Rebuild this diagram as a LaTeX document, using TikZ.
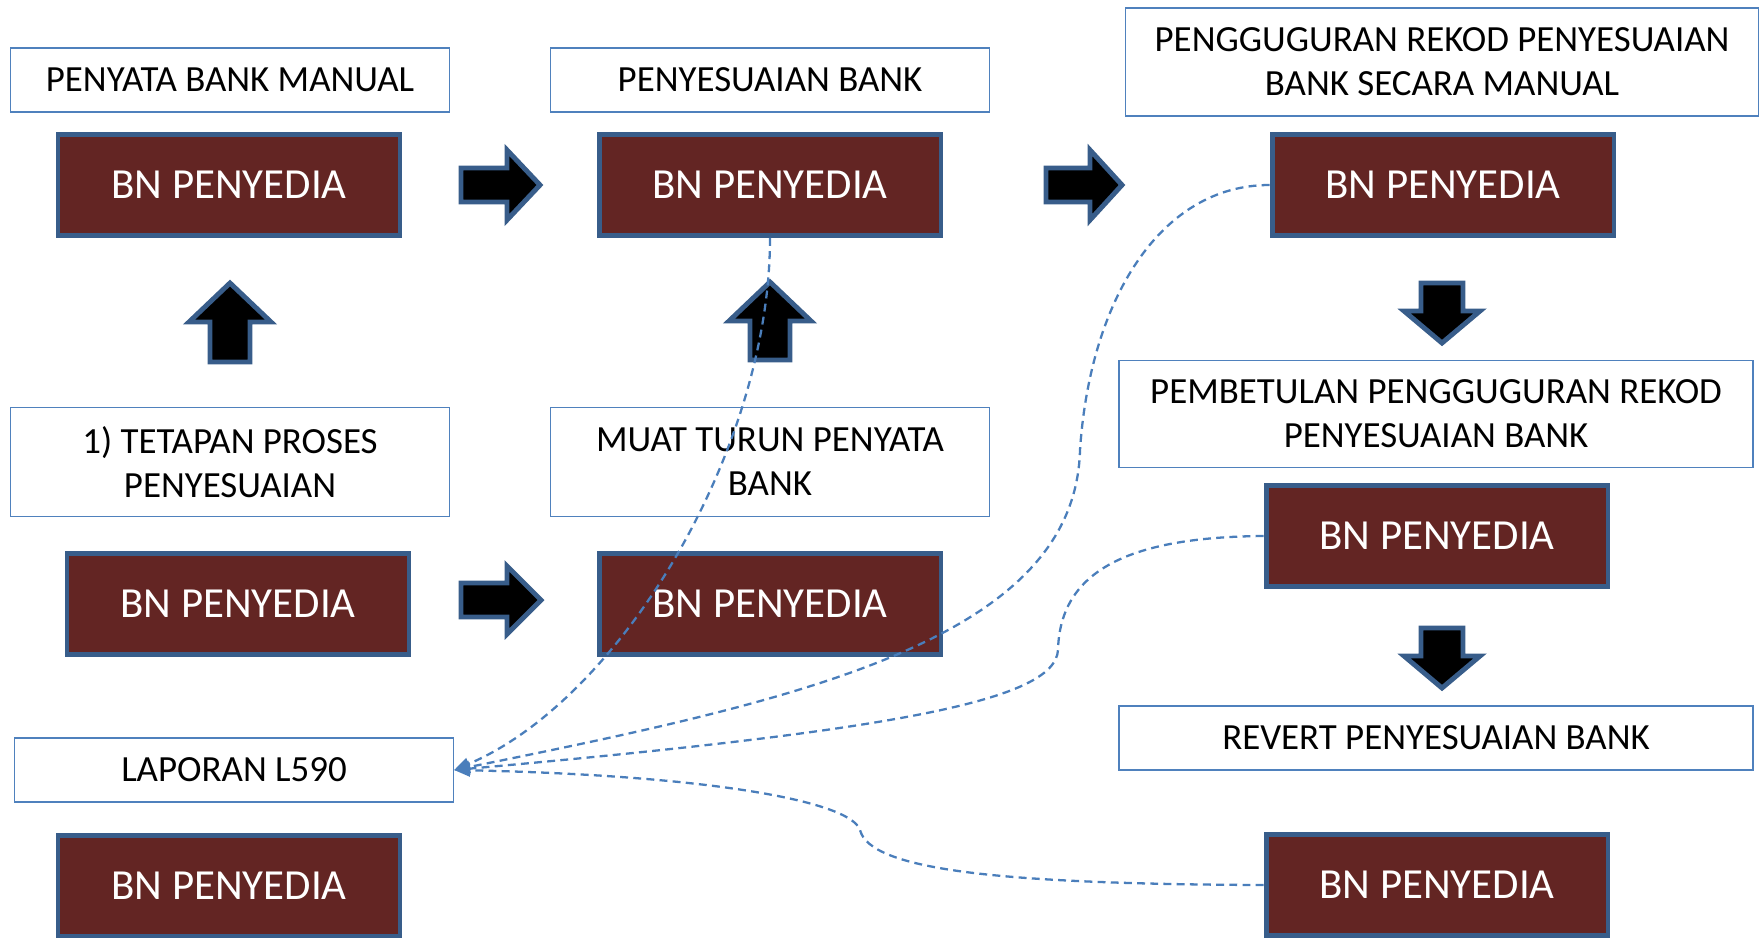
\documentclass[tikz,border=0pt]{standalone}
\usepackage{fontspec}
\setmainfont{Carlito}
\usetikzlibrary{arrows.meta}
\definecolor{mybrown}{RGB}{99,37,35}
\definecolor{mynavy}{RGB}{56,93,138}
\definecolor{myblue}{RGB}{79,129,189}
\definecolor{mydash}{RGB}{74,126,187}
\tikzstyle{bnbox}=[draw=mynavy,fill=mybrown,line width=2.8pt,minimum width=6.84cm,minimum height=2.02cm,text=white,font=\fontsize{24.4}{28}\selectfont]
\tikzstyle{whitebox}=[draw=myblue,fill=white,line width=0.8pt,minimum width=8.78cm,minimum height=1.28cm,align=center,font=\fontsize{21}{25}\selectfont]
\tikzstyle{blockarrow}=[draw=mynavy,fill=black,line width=2.8pt]
\tikzstyle{link}=[draw=mydash,dashed,dash pattern=on 4.5pt off 3pt,line width=1.3pt,-{Triangle[length=9pt,width=7pt]}]

\begin{document}
\begin{tikzpicture}[x=0.02cm,y=-0.02cm]
\useasboundingbox (0,0) rectangle (1763,937);
\clip (0,0) rectangle (1763,937);
% top row
\draw (230, 80) node [whitebox] (w1) {PENYATA BANK MANUAL};
\draw (229, 185) node [bnbox] (b1) {BN PENYEDIA};
\draw (770, 80) node [whitebox] (w2) {PENYESUAIAN BANK};
\draw (770, 185) node [bnbox] (b2) {BN PENYEDIA};
\draw (1442, 62) node [whitebox, minimum width=12.66cm, minimum height=2.16cm] (w3) {PENGGUGURAN REKOD PENYESUAIAN\\BANK SECARA MANUAL};
\draw (1443, 185) node [bnbox] (b3) {BN PENYEDIA};
% middle row
\draw (230, 462) node [whitebox, minimum height=2.18cm] (w4) {1) TETAPAN PROSES\\PENYESUAIAN};
\draw (238, 604) node [bnbox] (b4) {BN PENYEDIA};
\draw (770, 462) node [whitebox, minimum height=2.18cm] (w5) {MUAT TURUN PENYATA\\BANK};
\draw (770, 604) node [bnbox] (b5) {BN PENYEDIA};
\draw (1436, 414) node [whitebox, minimum width=12.68cm, minimum height=2.14cm] (w6) {PEMBETULAN PENGGUGURAN REKOD\\PENYESUAIAN BANK};
\draw (1437, 536) node [bnbox] (b6) {BN PENYEDIA};
\draw (1436, 738) node [whitebox, minimum width=12.68cm, minimum height=1.28cm] (w7) {REVERT PENYESUAIAN BANK};
% bottom row
\draw (234, 770) node [whitebox] (lap) {LAPORAN L590};
\draw (229, 886) node [bnbox] (b7) {BN PENYEDIA};
\draw (1437, 885) node [bnbox] (b8) {BN PENYEDIA};
% block arrows
\draw[blockarrow] (461,168) -- (507,168) -- (507,150) -- (540,185) -- (507,220) -- (507,202) -- (461,202) -- cycle;
\draw[blockarrow] (1046,168) -- (1090,168) -- (1090,150) -- (1122,185) -- (1090,220) -- (1090,202) -- (1046,202) -- cycle;
\draw[blockarrow] (461,583) -- (507,583) -- (507,566) -- (541,600) -- (507,634) -- (507,617) -- (461,617) -- cycle;
\draw[blockarrow] (230,283) -- (271,322) -- (250,322) -- (250,362) -- (210,362) -- (210,322) -- (189,322) -- cycle;
\draw[blockarrow] (770,282) -- (811,321) -- (790,321) -- (790,360) -- (750,360) -- (750,321) -- (729,321) -- cycle;
\draw[blockarrow] (1421,283) -- (1463,283) -- (1463,311) -- (1480,311) -- (1442,343) -- (1404,311) -- (1421,311) -- cycle;
\draw[blockarrow] (1421,628) -- (1463,628) -- (1463,656) -- (1480,656) -- (1442,688) -- (1404,656) -- (1421,656) -- cycle;
% dashed links to the report
\draw[link] (b2.south) .. controls (770,450) and (620,700) .. (lap.east);
\draw[link] (b3.west) .. controls (1160,185) and (1090,300) .. (1080,450) .. controls (1075,640) and (800,700) .. (lap.east);
\draw[link] (b6.west) .. controls (1130,537) and (1060,570) .. (1058,650) .. controls (1055,700) and (900,730) .. (lap.east);
\draw[link] (b8.west) .. controls (1000,884) and (870,870) .. (860,830) .. controls (850,800) and (700,775) .. (lap.east);
\end{tikzpicture}
\end{document}
